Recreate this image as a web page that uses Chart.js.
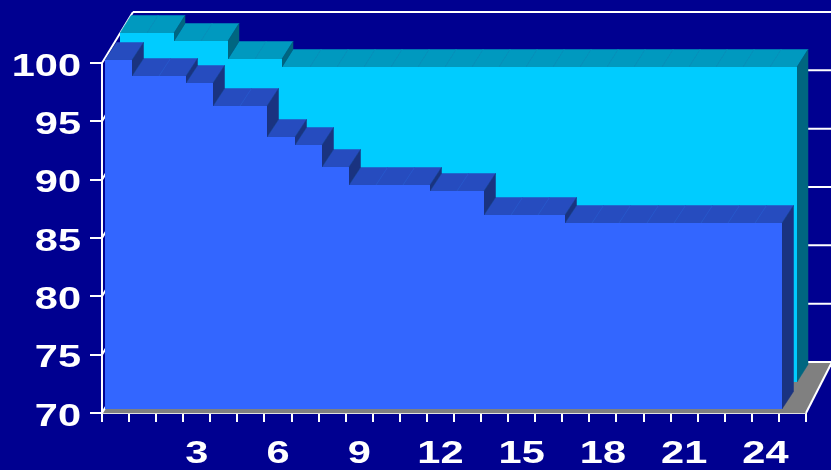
<!DOCTYPE html>
<html>
<head>
<meta charset="utf-8">
<title>Step area</title>
<script src="https://cdn.jsdelivr.net/npm/chart.js@4"></script>
<style>
  html, body { margin: 0; padding: 0; background: #000090; overflow: hidden; }
  canvas { display: block; }
</style>
</head>
<body>
<canvas id="grafico" width="831" height="470"></canvas>
<script>
// Datos de las dos series (la posición 25 queda vacía)
const categorias = ['0','1','2','3','4','5','6','7','8','9','10','11','12','13','14','15','16','17','18','19','20','21','22','23','24','25'];
const serieAtras = [100,100,99.3,99.3,97.75,97.75,97.05,97.05,97.05,97.05,97.05,97.05,97.05,97.05,97.05,97.05,97.05,97.05,97.05,97.05,97.05,97.05,97.05,97.05,97.05,null];
const serieFrente = [100,98.65,98.65,98,96.1,96.1,93.4,92.7,90.8,89.3,89.3,89.3,88.75,88.75,86.7,86.7,86.7,86,86,86,86,86,86,86,86,null];
const marcasY = [70,75,80,85,90,95,100];

const BLANCO = '#ffffff';
const PARED = { izq: 31, der: 26, y: -51 };
const FUENTE = 'bold 31px "Liberation Sans"';
const ESTIRADO = 1.34;

// Cada serie es un bloque extruido hacia el fondo del gráfico
const bloques = [
  { dataset: 0, dx: 18, dy: -30, fx: 11, fy: -17.5, cara: '#00ccff', techo: '#0099bf', lado: '#006680', junta: '#0a93ba' },
  { dataset: 1, dx: 3, dy: -3, fx: 11.5, fy: -17.5, cara: '#3366ff', techo: '#264cbf', lado: '#1a3380', junta: '#2a55cc' }
];

function poligono(ctx, puntos, color) {
  ctx.beginPath();
  puntos.forEach(function (p, i) {
    if (i === 0) ctx.moveTo(p[0], p[1]);
    else ctx.lineTo(p[0], p[1]);
  });
  ctx.closePath();
  ctx.fillStyle = color;
  ctx.strokeStyle = color;
  ctx.lineWidth = 0.5;
  ctx.fill();
  ctx.stroke();
}

function linea(ctx, x1, y1, x2, y2, color, ancho) {
  ctx.beginPath();
  ctx.moveTo(x1, y1);
  ctx.lineTo(x2, y2);
  ctx.strokeStyle = color;
  ctx.lineWidth = ancho;
  ctx.stroke();
}

function dibujarBloque(chart, b) {
  const ctx = chart.ctx;
  const barras = chart.getDatasetMeta(b.dataset).data;
  const datos = chart.data.datasets[b.dataset].data;
  const tramos = [];

  barras.forEach(function (barra, i) {
    if (datos[i] === null) return;
    tramos.push({
      izq: Math.round(barra.x - barra.width / 2 + b.dx),
      der: Math.round(barra.x + barra.width / 2 + b.dx),
      y: Math.round(barra.y + b.dy),
      base: Math.round(barra.base + b.dy)
    });
  });

  // Caras superiores y juntas entre categorías
  tramos.forEach(function (t) {
    poligono(ctx, [[t.izq, t.y], [t.der, t.y], [t.der + b.fx, t.y + b.fy], [t.izq + b.fx, t.y + b.fy]], b.techo);
  });
  tramos.forEach(function (t, i) {
    const sig = tramos[i + 1];
    if (sig && sig.y === t.y) linea(ctx, t.der, t.y, t.der + b.fx, t.y + b.fy, b.junta, 0.75);
  });

  // Caras laterales en cada escalón y al final de la serie
  tramos.forEach(function (t, i) {
    const sig = tramos[i + 1];
    const abajo = sig ? sig.y : t.base;
    if (abajo === t.y) return;
    poligono(ctx, [[t.der, t.y], [t.der + b.fx, t.y + b.fy], [t.der + b.fx, abajo + b.fy], [t.der, abajo]], b.lado);
  });

  // Cara frontal
  tramos.forEach(function (t) {
    ctx.fillStyle = b.cara;
    ctx.fillRect(t.izq, t.y, t.der - t.izq, t.base - t.y);
  });
}

// Texto ensanchado en horizontal para las etiquetas de los ejes
function textoAncho(ctx, texto, x, y, alineado) {
  ctx.save();
  ctx.translate(x, y);
  ctx.scale(ESTIRADO, 1);
  ctx.font = FUENTE;
  ctx.fillStyle = BLANCO;
  ctx.textAlign = alineado;
  ctx.textBaseline = 'middle';
  ctx.fillText(texto, 0, 0);
  ctx.restore();
}

const escena3d = {
  id: 'escena3d',
  beforeDatasetsDraw: function (chart) {
    const ctx = chart.ctx;
    const area = chart.chartArea;
    const escalaY = chart.scales.y;

    ctx.save();

    // Suelo gris
    poligono(ctx, [
      [area.left, area.bottom], [area.right, area.bottom],
      [area.right + PARED.der, area.bottom + PARED.y], [area.left + PARED.izq, area.bottom + PARED.y]
    ], '#808080');

    // Líneas de la pared lateral y de la pared del fondo
    marcasY.forEach(function (v) {
      const y = escalaY.getPixelForValue(v);
      linea(ctx, area.left, y, area.left + PARED.izq, y + PARED.y, BLANCO, 2);
      linea(ctx, area.left + PARED.izq, y + PARED.y, area.right + PARED.der, y + PARED.y, BLANCO, 2);
    });
    linea(ctx, area.right, area.bottom, area.right + PARED.der, area.bottom + PARED.y, BLANCO, 2);

    bloques.forEach(function (b) { dibujarBloque(chart, b); });

    ctx.restore();
    return false;
  },
  afterDraw: function (chart) {
    const ctx = chart.ctx;
    const escalaX = chart.scales.x;
    const escalaY = chart.scales.y;

    escalaY.ticks.forEach(function (t, i) {
      textoAncho(ctx, String(t.value), 81, escalaY.getPixelForTick(i) + 4, 'right');
    });
    escalaX.ticks.forEach(function (t, i) {
      if (t.label) textoAncho(ctx, t.label, escalaX.getPixelForTick(i), 454, 'center');
    });
  }
};

new Chart(document.getElementById('grafico').getContext('2d'), {
  type: 'bar',
  plugins: [escena3d],
  data: {
    labels: categorias,
    datasets: [
      { label: 'Fondo', data: serieAtras, base: 70, grouped: false, barPercentage: 1, categoryPercentage: 1 },
      { label: 'Frente', data: serieFrente, base: 70, grouped: false, barPercentage: 1, categoryPercentage: 1 }
    ]
  },
  options: {
    responsive: false,
    animation: false,
    layout: { padding: { top: 63, right: 25, left: 0, bottom: 0 } },
    plugins: {
      legend: { display: false },
      tooltip: { enabled: false }
    },
    scales: {
      x: {
        z: 1,
        afterFit: function (s) { s.height = 57; s.paddingLeft = 0; s.paddingRight = 0; },
        border: { color: BLANCO, width: 2 },
        grid: { drawOnChartArea: false, color: BLANCO, tickColor: BLANCO, tickLength: 9, lineWidth: 2, offset: true },
        ticks: {
          display: false,
          autoSkip: false,
          maxRotation: 0,
          callback: function (valor, i) {
            return i > 0 && i % 3 === 0 && i < 25 ? categorias[i] : '';
          }
        }
      },
      y: {
        z: 1,
        min: 70,
        max: 100,
        afterFit: function (s) { s.width = 102; s.paddingTop = 0; s.paddingBottom = 0; },
        afterBuildTicks: function (s) { s.ticks = marcasY.map(function (v) { return { value: v }; }); },
        border: { color: BLANCO, width: 2 },
        grid: { drawOnChartArea: false, color: BLANCO, tickColor: BLANCO, tickLength: 12, lineWidth: 2 },
        ticks: { display: false }
      }
    }
  }
});
</script>
</body>
</html>
